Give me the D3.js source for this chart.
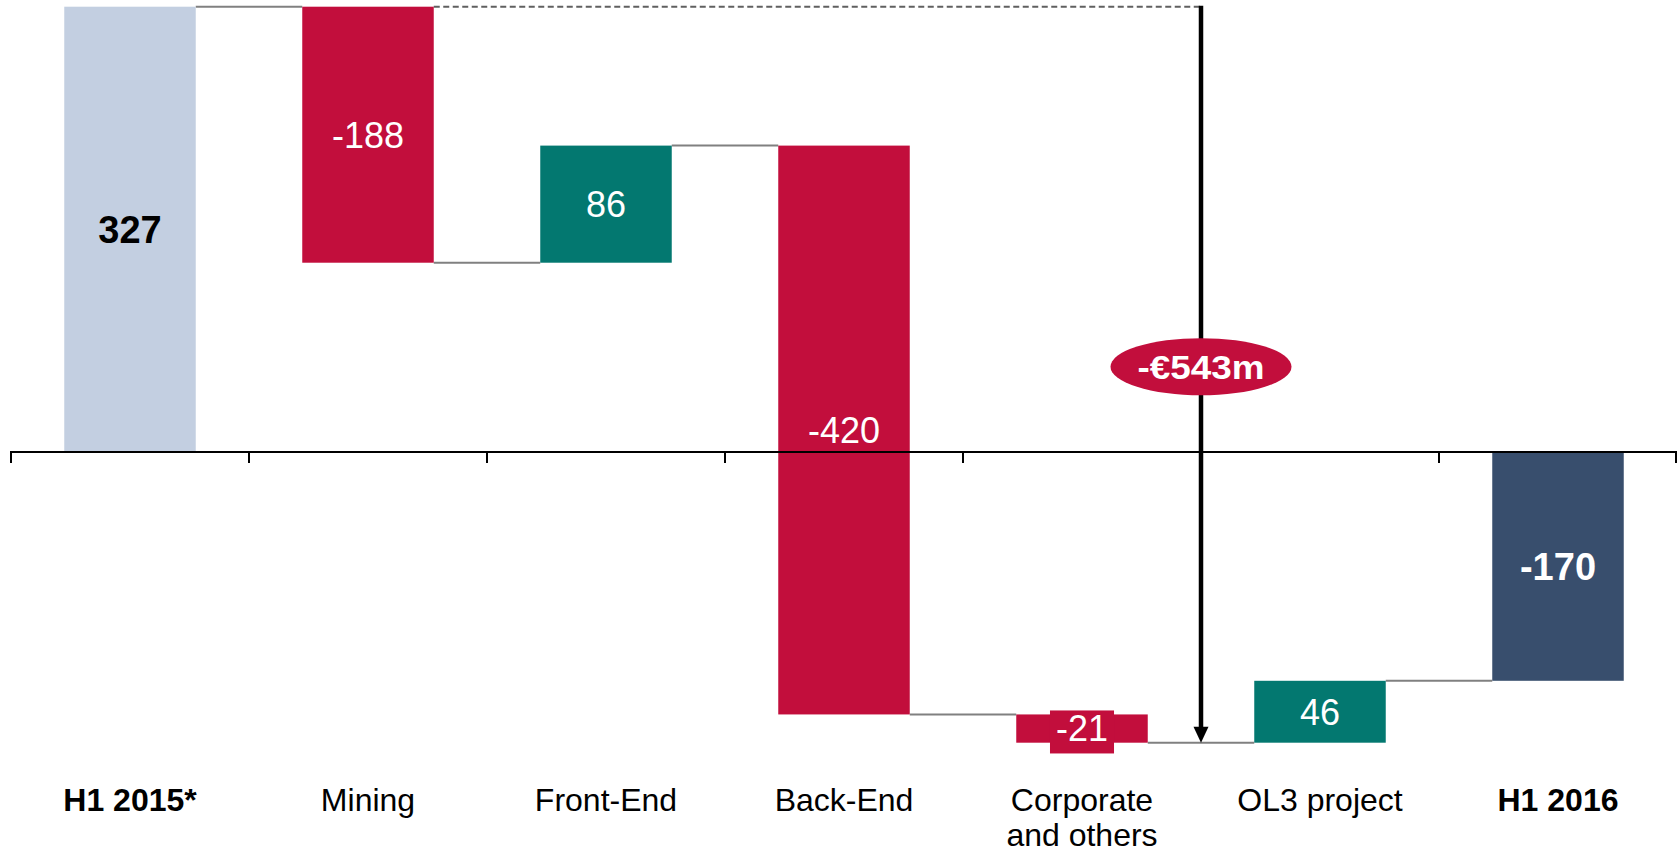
<!DOCTYPE html>
<html>
<head>
<meta charset="utf-8">
<script src="https://cdn.jsdelivr.net/npm/d3@7"></script>
<style>
    body { margin: 0; background: #fff; }
    text { font-family: "Liberation Sans", Arial, sans-serif; }
</style>
</head>
<body>
<div id="chart"></div>
<script>
const width = 1677
const height = 853

// data
const categories = ["H1 2015*", "Mining", "Front-End", "Back-End", "Corporate\nand others", "OL3 project", "H1 2016"]
const values = [327, -188, 86, -420, -21, 46, -170]
const isTotal = [true, false, false, false, false, false, true]
const totalChange = "-€543m"

const colors = {
    start: "#c3cfe1",
    end: "#384e6d",
    up: "#037870",
    down: "#c20e3c",
    link: "#808080"
}

// build the waterfall steps
let running = 0
const steps = categories.map((c, i) => {
    let from, to
    if (isTotal[i]) {
        from = 0
        to = values[i]
    } else {
        from = running
        to = running + values[i]
    }
    running = to
    return {cat: c, value: values[i], from: from, to: to, total: isTotal[i], i: i}
})

const svg = d3.select("div#chart").append("svg").attr("width", width).attr("height", height)

const x = d3.scaleBand().domain(categories).range([11, 1677]).paddingInner(0.4475).paddingOuter(0.22375)
// the original slide is not quite proportional above and below zero
const y = d3.scaleLinear().domain([-216, 0, 327]).range([742.7, 452, 6.7])

const step = x.step()
const boundary = i => x(categories[0]) - step * x.paddingInner() / 2 + i * step

// connectors between bars
const linkGroup = svg.append("g")
steps.forEach((d, i) => {
    if (i === steps.length - 1) return
    const next = steps[i + 1]
    linkGroup.append("line")
        .attr("x1", x(d.cat) + x.bandwidth()).attr("x2", x(next.cat))
        .attr("y1", y(d.to)).attr("y2", y(d.to))
        .attr("stroke", colors.link).attr("stroke-width", 2)
})

// dashed reference at the starting level, from the Mining bar to the arrow
const arrowX = boundary(5)
svg.append("line")
    .attr("x1", x(categories[1]) + x.bandwidth()).attr("x2", arrowX)
    .attr("y1", y(values[0])).attr("y2", y(values[0]))
    .attr("stroke", "#606060").attr("stroke-width", 2).attr("stroke-dasharray", "6,3.5")

// bars
svg.append("g").selectAll("rect").data(steps).enter()
    .append("rect")
    .attr("x", d => x(d.cat))
    .attr("width", x.bandwidth())
    .attr("y", d => y(Math.max(d.from, d.to)))
    .attr("height", d => Math.abs(y(d.from) - y(d.to)))
    .attr("fill", d => d.total ? (d.i === 0 ? colors.start : colors.end) : (d.value < 0 ? colors.down : colors.up))

// axis line and ticks at the band boundaries
const axisGroup = svg.append("g")
axisGroup.append("line")
    .attr("x1", boundary(0) - 1).attr("x2", width)
    .attr("y1", y(0)).attr("y2", y(0))
    .attr("stroke", "#000").attr("stroke-width", 2)
axisGroup.selectAll("line.tick").data(d3.range(categories.length + 1)).enter()
    .append("line").attr("class", "tick")
    .attr("x1", i => Math.min(boundary(i), width - 1)).attr("x2", i => Math.min(boundary(i), width - 1))
    .attr("y1", y(0)).attr("y2", y(0) + 11)
    .attr("stroke", "#000").attr("stroke-width", 2)

// value labels
const labelGroup = svg.append("g")
steps.forEach(d => {
    const cx = x(d.cat) + x.bandwidth() / 2
    const cy = (y(d.from) + y(d.to)) / 2
    const fs = d.total ? 38 : 36
    const t = labelGroup.append("text")
        .attr("x", cx).attr("y", cy + fs * 0.358)
        .attr("text-anchor", "middle")
        .attr("font-size", fs)
        .attr("font-weight", d.total ? "bold" : "normal")
        .attr("fill", d.i === 0 ? "#000" : "#fff")
        .text(d.value)
    // small bars get a box behind the label
    if (Math.abs(y(d.from) - y(d.to)) < fs) {
        const b = t.node().getBBox()
        labelGroup.insert("rect", () => t.node())
            .attr("x", b.x - 6).attr("y", b.y + 2)
            .attr("width", b.width + 12).attr("height", b.height + 2)
            .attr("fill", colors.down)
    }
})

// category labels
svg.append("g").selectAll("text").data(steps).enter()
    .append("text")
    .attr("x", d => x(d.cat) + x.bandwidth() / 2)
    .attr("y", 811)
    .attr("text-anchor", "middle")
    .attr("font-size", 32)
    .attr("font-weight", d => d.total ? "bold" : "normal")
    .attr("fill", "#000")
    .each(function(d) {
        d.cat.split("\n").forEach((line, k) => {
            d3.select(this).append("tspan")
                .attr("x", x(d.cat) + x.bandwidth() / 2)
                .attr("dy", k === 0 ? 0 : 35)
                .text(line)
        })
    })

// total change arrow
const endLevel = y(d3.min(steps, d => Math.min(d.from, d.to)))
svg.append("line")
    .attr("x1", arrowX).attr("x2", arrowX)
    .attr("y1", y(values[0]) - 1).attr("y2", endLevel - 14)
    .attr("stroke", "#000").attr("stroke-width", 4.5)
svg.append("path")
    .attr("d", `M${arrowX - 7.5},${endLevel - 16} L${arrowX + 7.5},${endLevel - 16} L${arrowX},${endLevel} Z`)
    .attr("fill", "#000")

svg.append("ellipse")
    .attr("cx", arrowX).attr("cy", 366.7)
    .attr("rx", 90.5).attr("ry", 28.5)
    .attr("fill", colors.down)
svg.append("text")
    .attr("x", arrowX).attr("y", 366.7 + 34 * 0.358)
    .attr("text-anchor", "middle")
    .attr("font-size", 34).attr("font-weight", "bold")
    .attr("fill", "#fff")
    .attr("textLength", 127).attr("lengthAdjust", "spacingAndGlyphs")
    .text(totalChange)
</script>
</body>
</html>
